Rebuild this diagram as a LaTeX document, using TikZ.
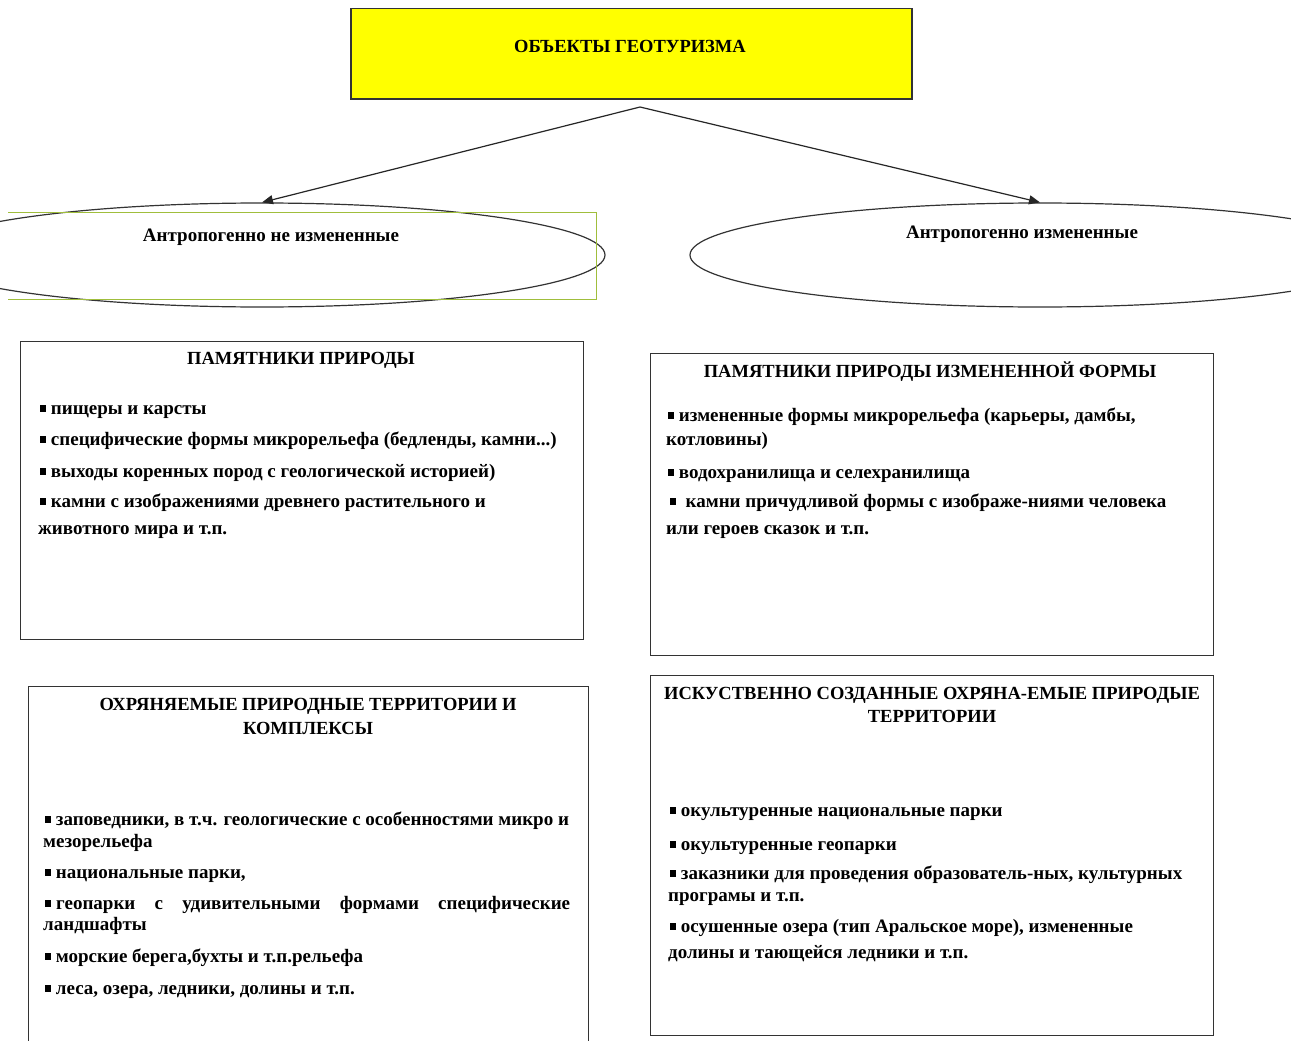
\documentclass[tikz,border=0pt]{standalone}
\usepackage{fontspec}
\setmainfont{Liberation Serif}
\usetikzlibrary{shapes.geometric,arrows.meta}
\newcommand{\blt}{\rule[2.5pt]{6pt}{7pt}}
\definecolor{grnline}{RGB}{160,190,60}
\definecolor{topyel}{RGB}{255,255,0}
\begin{document}
\begin{tikzpicture}[x=1pt,y=-1pt,
  fnt/.style={font=\bfseries\fontsize{19}{21}\selectfont},
  tfnt/.style={font=\bfseries\fontsize{18.5}{20}\selectfont},
  ln/.style={fnt,anchor=base west,inner sep=0pt},
  ttl/.style={tfnt,anchor=base,inner sep=0pt},
  bx/.style={draw=black!80,line width=1.1pt,inner sep=0pt,anchor=north west},
  ell/.style={draw=black!80,line width=1.2pt,ellipse,inner sep=0pt},
  arr/.style={draw=black!85,line width=1.2pt,-{Triangle[length=11pt,width=9pt]}}]
\useasboundingbox (0,0) rectangle (1291,1041);
\fill[white] (0,0) rectangle (1291,1041);
% top box
\node[bx,fill=topyel,line width=1.5pt,minimum width=561pt,minimum height=90pt] (top) at (350,8) {};
\node[ttl] (t0) at (630,53) {ОБЪЕКТЫ ГЕОТУРИЗМА};
% ellipses
\node[ell,minimum width=686pt,minimum height=104pt] (ellL) at (262,255) {};
\node[ell,minimum width=700pt,minimum height=104pt] (ellR) at (1040,255) {};
\draw[grnline,line width=0.8pt] (8,212) -- (596,212) -- (596,299) -- (8,299);
\node[ln,anchor=base] (eL) at (271,241) {Антропогенно не измененные};
\node[ln,anchor=base] (eR) at (1022,238) {Антропогенно измененные};
\coordinate (apex) at (640,107);
\draw[arr] (apex) -- (ellL.north);
\draw[arr] (apex) -- (ellR.north);
% box 1
\node[bx,minimum width=563pt,minimum height=298pt] (b1) at (20,341) {};
\node[ttl] (t1) at (301,364) {ПАМЯТНИКИ ПРИРОДЫ};
\node[ln] (l11) at (40,414) {\blt\ пищеры и карсты};
\node[ln] (l12) at (40,445) {\blt\ специфические формы микрорельефа (бедленды, камни...)};
\node[ln] (l13) at (40,477) {\blt\ выходы коренных пород с геологической историей)};
\node[ln] (l14) at (40,507) {\blt\ камни с изображениями древнего растительного и};
\node[ln] (l15) at (38,534) {животного мира и т.п.};
% box 2
\node[bx,minimum width=563pt,minimum height=302pt] (b2) at (650,353) {};
\node[ttl] (t2) at (930,377) {ПАМЯТНИКИ ПРИРОДЫ ИЗМЕНЕННОЙ ФОРМЫ};
\node[ln] (l21) at (668,421) {\blt\ измененные формы микрорельефа (карьеры, дамбы,};
\node[ln] (l22) at (666,445) {котловины)};
\node[ln] (l23) at (668,478) {\blt\ водохранилища и селехранилища};
\node[ln] (l24) at (670,507) {\blt\ \ камни причудливой формы с изображе-ниями человека};
\node[ln] (l25) at (666,534) {или героев сказок и т.п.};
% box 3
\node[bx,minimum width=560pt,minimum height=380pt] (b3) at (28,686) {};
\node[ttl] (t31) at (308,710) {ОХРЯНЯЕМЫЕ ПРИРОДНЫЕ ТЕРРИТОРИИ И};
\node[ttl] (t32) at (308,734) {КОМПЛЕКСЫ};
\node[ln] (l31) at (45,825) {\blt\ заповедники, в т.ч. геологические с особенностями микро и};
\node[ln] (l32) at (43,847) {мезорельефа};
\node[ln] (l33) at (45,878) {\blt\ национальные парки,};
\node[ln] (l34) at (45,909) {\makebox[525pt][s]{\blt\hspace{5pt}геопарки с удивительными формами специфические}};
\node[ln] (l35) at (43,930) {ландшафты};
\node[ln] (l36) at (45,962) {\blt\ морские берега,бухты и т.п.рельефа};
\node[ln] (l37) at (45,994) {\blt\ леса, озера, ледники, долины и т.п.};
% box 4
\node[bx,minimum width=563pt,minimum height=360pt] (b4) at (650,675) {};
\node[ttl] (t41) at (932,699) {ИСКУСТВЕННО СОЗДАННЫЕ ОХРЯНА-ЕМЫЕ ПРИРОДЫЕ};
\node[ttl] (t42) at (932,722) {ТЕРРИТОРИИ};
\node[ln] (l41) at (670,816) {\blt\ окультуренные национальные парки};
\node[ln] (l42) at (670,850) {\blt\ окультуренные геопарки};
\node[ln] (l43) at (670,879) {\blt\ заказники для проведения образователь-ных, культурных};
\node[ln] (l44) at (668,901) {програмы и т.п.};
\node[ln] (l45) at (670,932) {\blt\ осушенные озера (тип Аральское море), измененные};
\node[ln] (l46) at (668,958) {долины и тающейся ледники и т.п.};
\end{tikzpicture}
\end{document}
